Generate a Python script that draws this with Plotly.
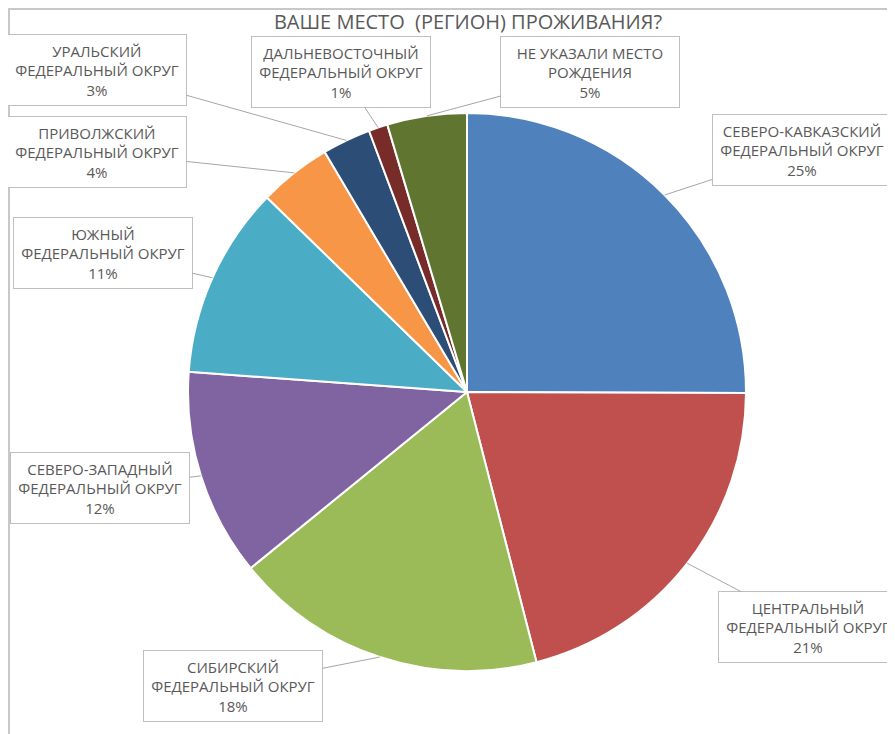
import numpy as np
import plotly.graph_objects as go

# данные
regions = [
    "СЕВЕРО-КАВКАЗСКИЙ<br>ФЕДЕРАЛЬНЫЙ ОКРУГ",
    "ЦЕНТРАЛЬНЫЙ<br>ФЕДЕРАЛЬНЫЙ ОКРУГ",
    "СИБИРСКИЙ<br>ФЕДЕРАЛЬНЫЙ ОКРУГ",
    "СЕВЕРО-ЗАПАДНЫЙ<br>ФЕДЕРАЛЬНЫЙ ОКРУГ",
    "ЮЖНЫЙ<br>ФЕДЕРАЛЬНЫЙ ОКРУГ",
    "ПРИВОЛЖСКИЙ<br>ФЕДЕРАЛЬНЫЙ ОКРУГ",
    "УРАЛЬСКИЙ<br>ФЕДЕРАЛЬНЫЙ ОКРУГ",
    "ДАЛЬНЕВОСТОЧНЫЙ<br>ФЕДЕРАЛЬНЫЙ ОКРУГ",
    "НЕ УКАЗАЛИ МЕСТО<br>РОЖДЕНИЯ",
]
shares = [25.0, 20.9, 18.1, 12.0, 11.1, 4.2, 2.8, 1.1, 4.6]
colors = ["#4F81BD", "#C0504D", "#9BBB59", "#8064A2", "#4BACC6",
          "#F79646", "#2C4D75", "#772C2A", "#5F7530"]

# центры подписей (px на скриншоте)
box_pos = [(802, 150), (808, 627), (233, 686), (100, 488), (103, 253),
           (97, 152), (97, 70), (341, 72), (590, 72)]

W, H = 895, 734
OFF = 8  # отступ body в браузере
cx, cy, R = 467 - OFF, 392 - OFF, 279

fig = go.Figure(go.Pie(
    labels=regions,
    values=shares,
    sort=False,
    direction="clockwise",
    rotation=0,
    marker=dict(colors=colors, line=dict(color="white", width=2)),
    textinfo="none",
    hoverinfo="label+percent",
    domain=dict(x=[(cx - R) / W, (cx + R) / W],
                y=[(H - cy - R) / H, (H - cy + R) / H]),
    showlegend=False,
))

vals = np.array(shares)
frac = vals / vals.sum()
mids = (np.cumsum(frac) - frac / 2) * 2 * np.pi
for name, f, m, (bx, by) in zip(regions, frac, mids, box_pos):
    px = cx + R * np.sin(m)
    py = cy - R * np.cos(m)
    fig.add_annotation(
        x=px / W, y=1 - py / H, xref="paper", yref="paper",
        ax=(bx - OFF) - px, ay=(by - OFF) - py,
        text=f"{name}<br>{round(f * 100):.0f}%",
        showarrow=True, arrowhead=0, arrowwidth=1, arrowcolor="#A6A6A6",
        bgcolor="white", bordercolor="#BFBFBF", borderwidth=1,
        width=172, height=64, borderpad=3,
        font=dict(family="Open Sans", size=15, color="#595959"),
        align="center",
    )

# рамка области диаграммы
fig.add_shape(type="line", xref="paper", yref="paper",
              x0=0, x1=1, y0=1 - 1 / H, y1=1 - 1 / H,
              line=dict(color="#C8C8C8", width=2))
fig.add_shape(type="line", xref="paper", yref="paper",
              x0=1 / W, x1=1 / W, y0=0, y1=1,
              line=dict(color="#C8C8C8", width=2))

fig.update_layout(
    width=W, height=H,
    margin=dict(l=0, r=0, t=0, b=0),
    paper_bgcolor="white",
    title=dict(text="ВАШЕ МЕСТО  (РЕГИОН) ПРОЖИВАНИЯ?",
               x=(468 - OFF) / W, xanchor="center",
               y=1 - (22 - OFF) / H, yanchor="middle",
               font=dict(family="Open Sans", size=20, color="#595959")),
)

fig.write_html("out.html")
